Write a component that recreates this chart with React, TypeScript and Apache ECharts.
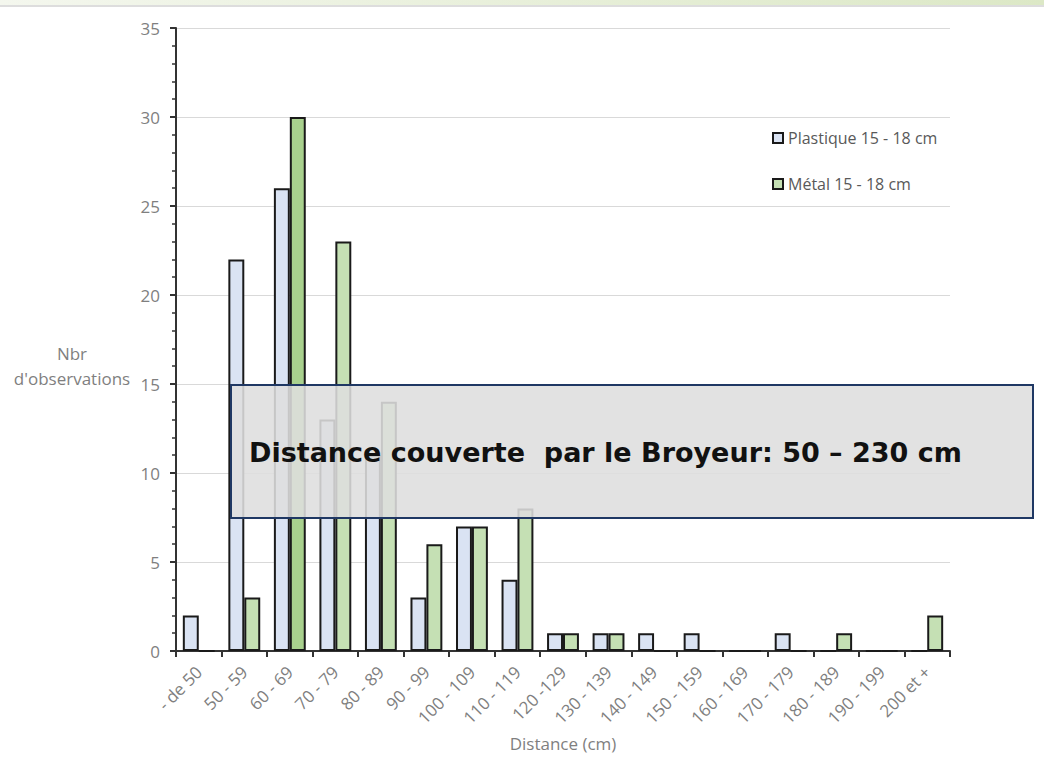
import React, { useEffect, useRef } from 'react';
import * as echarts from 'echarts';

const categories = ['- de 50', '50 - 59', '60 - 69', '70 - 79', '80 - 89', '90 - 99', '100 - 109', '110 - 119', '120 -129', '130 - 139', '140 - 149', '150 - 159', '160 - 169', '170 - 179', '180 - 189', '190 - 199', '200 et +'];
const plastique = [2, 22, 26, 13, 11, 3, 7, 4, 1, 1, 1, 1, 0, 1, 0, 0, 0];
const metal = [0, 3, 30, 23, 14, 6, 7, 8, 1, 1, 0, 0, 0, 0, 1, 0, 2];
const highlightIndex = 2;
const seriesNames = ['Plastique 15 - 18 cm', 'Métal 15 - 18 cm'];
const yTitle = "Nbr\nd'observations";
const xTitle = 'Distance (cm)';
const boxText = 'Distance couverte  par le Broyeur: 50 – 230 cm';

const FONT = '"Open Sans", "Liberation Sans", sans-serif';
const GRAY = '#7f7f7f';

export default function App() {
  const ref = useRef<HTMLDivElement>(null);
  useEffect(() => {
    document.body.style.margin = '0';
    const chart = echarts.init(ref.current!, null, { renderer: 'svg' });
    chart.setOption({
      animation: false,
      backgroundColor: '#ffffff',
      grid: { left: 176, right: 94, top: 28, bottom: 98, containLabel: false },
      legend: {
        orient: 'vertical',
        left: 772,
        top: 130,
        padding: 0,
        icon: 'rect',
        itemWidth: 10,
        itemHeight: 10,
        itemGap: 30,
        textStyle: { color: '#595959', fontSize: 16, fontFamily: FONT },
        data: seriesNames,
      },
      xAxis: {
        type: 'category',
        data: categories,
        boundaryGap: true,
        axisLine: { lineStyle: { color: '#333333', width: 2 } },
        axisTick: { show: true, length: 6, lineStyle: { color: '#333333', width: 2 } },
        axisLabel: { rotate: 45, color: GRAY, fontSize: 17, fontFamily: FONT, margin: 18, interval: 0 },
        name: xTitle,
        nameLocation: 'middle',
        nameGap: 84,
        nameTextStyle: { color: GRAY, fontSize: 17, fontFamily: FONT },
      },
      yAxis: {
        type: 'value',
        min: 0,
        max: 35,
        interval: 5,
        axisLine: { show: true, lineStyle: { color: '#333333', width: 2 } },
        axisTick: { show: true, length: 6, lineStyle: { color: '#333333', width: 2 } },
        minorTick: { show: true, splitNumber: 5, length: 4, lineStyle: { color: '#333333', width: 1.5 } },
        axisLabel: { color: GRAY, fontSize: 17, fontFamily: FONT, margin: 16 },
        splitLine: { show: true, lineStyle: { color: '#d9d9d9', width: 1 } },
      },
      series: [
        {
          name: seriesNames[0],
          type: 'bar',
          data: plastique,
          barGap: '0%',
          barCategoryGap: '30%',
          itemStyle: { color: '#dae3f3', borderColor: '#1a1a1a', borderWidth: 2 },
        },
        {
          name: seriesNames[1],
          type: 'bar',
          data: metal.map((v, i) => (i === highlightIndex ? { value: v, itemStyle: { color: '#a9d18e' } } : v)),
          barGap: '0%',
          barCategoryGap: '30%',
          itemStyle: { color: '#c5e0b4', borderColor: '#1a1a1a', borderWidth: 2 },
        },
      ],
      graphic: [
        {
          type: 'rect',
          z: 100,
          shape: { x: 0, y: 0, width: 1044, height: 5 },
          style: {
            fill: new echarts.graphic.LinearGradient(0, 0, 1, 0, [
              { offset: 0, color: '#f4f7ee' },
              { offset: 1, color: '#dce8c6' },
            ]),
          },
        },
        {
          type: 'line',
          z: 100,
          shape: { x1: 0, y1: 6, x2: 1044, y2: 6 },
          style: { stroke: '#dddddd', lineWidth: 2 },
        },
        {
          type: 'text',
          z: 100,
          x: 72,
          y: 366,
          style: {
            text: yTitle,
            fill: GRAY,
            font: `17px ${FONT}`,
            align: 'center',
            verticalAlign: 'middle',
            lineHeight: 25,
          },
        },
        {
          type: 'rect',
          z: 100,
          shape: { x: 231, y: 385, width: 802, height: 133 },
          style: { fill: 'rgba(222,222,222,0.88)', stroke: '#1f3864', lineWidth: 2 },
        },
        {
          type: 'text',
          z: 101,
          x: 249,
          y: 452,
          style: {
            text: boxText,
            fill: '#111111',
            font: `bold 27px "DejaVu Sans", sans-serif`,
            verticalAlign: 'middle',
          },
        },
      ],
    });
    return () => chart.dispose();
  }, []);
  return <div ref={ref} style={{ width: 1044, height: 757 }} />;
}
